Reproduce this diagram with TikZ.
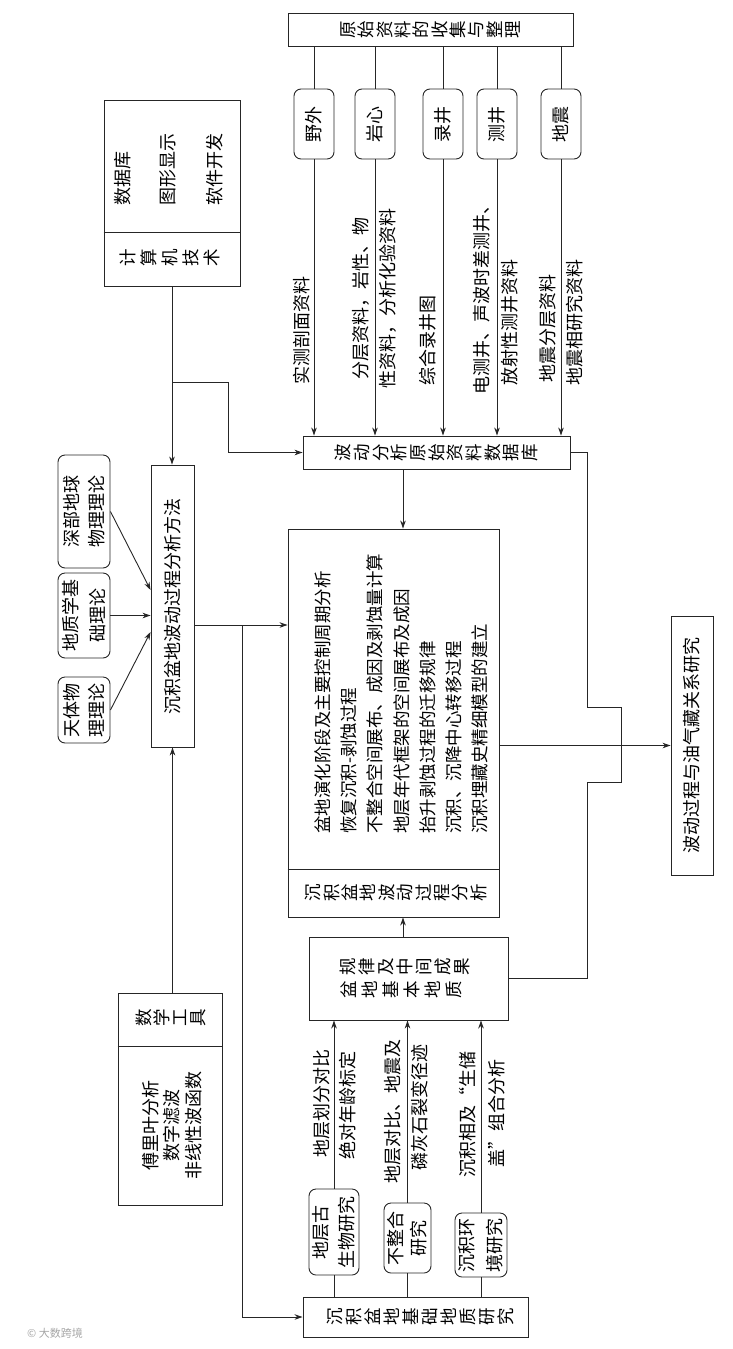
\documentclass[tikz,border=0pt]{standalone}
\usepackage{fontspec}
\setmainfont{Noto Sans CJK SC}
\usetikzlibrary{arrows.meta}
\begin{document}
\begin{tikzpicture}[x=1pt,y=-1pt,
  bx/.style={draw=black!85, line width=0.9pt, inner sep=0pt},
  rbx/.style={bx, rounded corners=7pt},
  rt/.style={rotate=90, inner sep=0pt, align=center, font=\fontsize{18}{#1}\selectfont},
  vs/.style={rotate=90, inner sep=0pt, align=center, font=\fontsize{17.5}{#1}\selectfont},
  ln/.style={draw=black!85, line width=0.9pt},
  arr/.style={draw=black!85, line width=0.9pt, -{Stealth[length=8pt,width=5.5pt]}}]
\useasboundingbox (0,0) rectangle (732,1349);

% ---------- boxes ----------
\node[bx, minimum width=285pt, minimum height=33pt] (top) at (430.5,29.5) {};
\node[rbx, minimum width=40pt, minimum height=70pt] (r1) at (314,124) {};
\node[rbx, minimum width=40pt, minimum height=70pt] (r2) at (375,124) {};
\node[rbx, minimum width=40pt, minimum height=70pt] (r3) at (443,124) {};
\node[rbx, minimum width=40pt, minimum height=70pt] (r4) at (497,124) {};
\node[rbx, minimum width=40pt, minimum height=70pt] (r5) at (561,124) {};
\node[bx, minimum width=267pt, minimum height=33pt] (db) at (436.5,452.5) {};
\node[bx, minimum width=136pt, minimum height=186pt] (comp) at (172,193) {};
\node[bx, minimum width=43pt, minimum height=282pt] (meth) at (172.5,606) {};
\node[rbx, minimum width=52pt, minimum height=113pt] (t1) at (84,511.5) {};
\node[rbx, minimum width=52pt, minimum height=85pt] (t2) at (84,615.5) {};
\node[rbx, minimum width=52pt, minimum height=66pt] (t3) at (84,710) {};
\node[bx, minimum width=211pt, minimum height=388pt] (main) at (393.5,723) {};
\node[bx, minimum width=42pt, minimum height=259pt] (fin) at (692,745.5) {};
\node[bx, minimum width=199pt, minimum height=83pt] (gl) at (408.5,978.5) {};
\node[bx, minimum width=225pt, minimum height=40pt] (base) at (415.5,1317) {};
\node[rbx, minimum width=50pt, minimum height=86pt] (b1) at (334,1232) {};
\node[rbx, minimum width=47pt, minimum height=70pt] (b2) at (407.5,1238) {};
\node[rbx, minimum width=52pt, minimum height=64pt] (b3) at (481,1245) {};
\node[bx, minimum width=104pt, minimum height=212pt] (math) at (170,1099) {};

% dividers
\coordinate (c232) at (0,232);
\coordinate (c869) at (0,869);
\coordinate (c1046) at (0,1046);
\draw[ln] (comp.west |- c232) -- (comp.east |- c232);
\draw[ln] (main.west |- c869) -- (main.east |- c869);
\draw[ln] (math.west |- c1046) -- (math.east |- c1046);

% ---------- texts ----------
\node[vs=18.3] (ttop) at (top) {原\\始\\资\\料\\的\\收\\集\\与\\整\\理};
\node[rt=22] (tr1) at (r1) {野外};
\node[rt=22] (tr2) at (r2) {岩心};
\node[rt=22] (tr3) at (r3) {录井};
\node[rt=22] (tr4) at (r4) {测井};
\node[rt=22] (tr5) at (r5) {地震};
\node[vs=18.7] (tdb) at (db) {波\\动\\分\\析\\原\\始\\资\\料\\数\\据\\库};

\node[rt=22] (l1) at (302,330) {实测剖面资料};
\node[rt=22] (l2a) at (361,298) {分层资料，岩性、物};
\node[rt=22] (l2b) at (388,298.5) {性资料，分析化验资料};
\node[rt=22] (l3) at (428,340) {综合录井图};
\node[rt=22] (l4a) at (482,295) {电测井、声波时差测井、};
\node[rt=22] (l4b) at (510,322.5) {放射性测井资料};
\node[rt=22] (l5a) at (548,328) {地震分层资料};
\node[rt=22] (l5b) at (575,322.5) {地震相研究资料};

\node[rt=22, anchor=west] (tc1) at (123,206) {数据库};
\node[rt=22, anchor=west] (tc2) at (168,206) {图形显示};
\node[rt=22, anchor=west] (tc3) at (215,206) {软件开发};
\node[vs=21] (tcomp) at (170,258) {计\\算\\机\\技\\术};

\node[rt=22] (tmeth) at (meth) {沉积盆地波动过程分析方法};
\node[rt=25] (tt1) at (t1) {深部地球\\物理理论};
\node[rt=27] (tt2) at (t2) {地质学基\\础理论};
\node[rt=25] (tt3) at (t3) {天体物\\理理论};

\node[rotate=90, inner sep=0pt, align=left, font=\fontsize{17.5}{26.2}\selectfont, anchor=west] (tmain) at (401.5,834)
 {盆地演化阶段及主要控制周期分析\\恢复沉积-剥蚀过程\\不整合空间展布、成因及剥蚀量计算\\地层年代框架的空间展布及成因\\抬升剥蚀过程的迁移规律\\沉积、沉降中心转移过程\\沉积埋藏史精细模型的建立};
\node[vs=18.4] (tmain2) at (396,893) {沉\\积\\盆\\地\\波\\动\\过\\程\\分\\析};

\node[rt=22] (tfin) at (fin) {波动过程与油气藏关系研究};

\node[vs=19] (tgl1) at (405,967) {规\\律\\及\\中\\间\\成\\果};
\node[vs=21] (tgl2) at (401,990) {盆\\地\\基\\本\\地\\质};

\node[vs=19] (tbase) at (420,1317) {沉\\积\\盆\\地\\基\\础\\地\\质\\研\\究};
\node[rt=26] (tb1) at (b1) {地层古\\生物研究};
\node[rt=23] (tb2) at (b2) {不整合\\研究};
\node[rt=28] (tb3) at (b3) {沉积环\\境研究};

\node[rt=22] (m1a) at (322,1103) {地层划分对比};
\node[rt=22] (m1b) at (348,1105) {绝对年龄标定};
\node[rt=22] (m2a) at (393,1111) {地层对比、地震及};
\node[rt=22] (m2b) at (420,1107) {磷灰石裂变径迹};
\node[rt=22] (m3a) at (468,1114) {沉积相及“生储};
\node[rt=22] (m3b) at (497,1113) {盖”组合分析};

\node[vs=18] (tmath) at (171,1018) {数\\学\\工\\具};
\node[rt=21.5] (tmath2) at (172,1125) {傅里叶分析\\数字滤波\\非线性波函数};

\node[text=black!35, font=\fontsize{11}{13}\selectfont] (wm) at (55,1333) {\textcopyright\ 大数跨境};

% ---------- connectors ----------
\foreach \r in {r1,r2,r3,r4,r5}{
  \draw[ln] (\r.north |- top.south) -- (\r.north);
  \draw[arr] (\r.south) -- (\r.south |- db.north);
}
\coordinate (j1) at (172,382);
\coordinate (k1) at (228,382);
\coordinate (c403) at (403,0);
\draw[arr] (comp.south) -- (comp.south |- meth.north);
\draw[arr] (j1) -| (k1) |- (db.west);
\draw[arr] (db.south -| c403) -- (main.north -| c403);

\coordinate (p1) at (587,707);
\coordinate (p2) at (621,782);
\coordinate (p3) at (587,978.5);
\draw[ln] (db.east) -| (p1) -| (p2) -| (p3) -- (gl.east);

\coordinate (c625) at (0,625);
\coordinate (j2) at (242,625);
\draw[arr] (meth.east |- c625) -- (main.west |- c625);
\draw[arr] (j2) |- (base.west);

\coordinate (c590) at (0,590);
\coordinate (c632) at (0,632);
\draw[arr] (t1.east) -- (meth.west |- c590);
\draw[arr] (t2.east) -- (t2.east -| meth.west);
\draw[arr] (t3.east) -- (meth.west |- c632);

\draw[arr] (main.east |- fin.west) -- (fin.west);
\draw[arr] (gl.north -| c403) -- (main.south -| c403);
\draw[arr] (math.north -| meth.south) -- (meth.south);

\foreach \b in {b1,b2,b3}{
  \draw[ln] (\b.south |- base.north) -- (\b.south);
  \draw[arr] (\b.north) -- (\b.north |- gl.south);
}
\end{tikzpicture}
\end{document}
